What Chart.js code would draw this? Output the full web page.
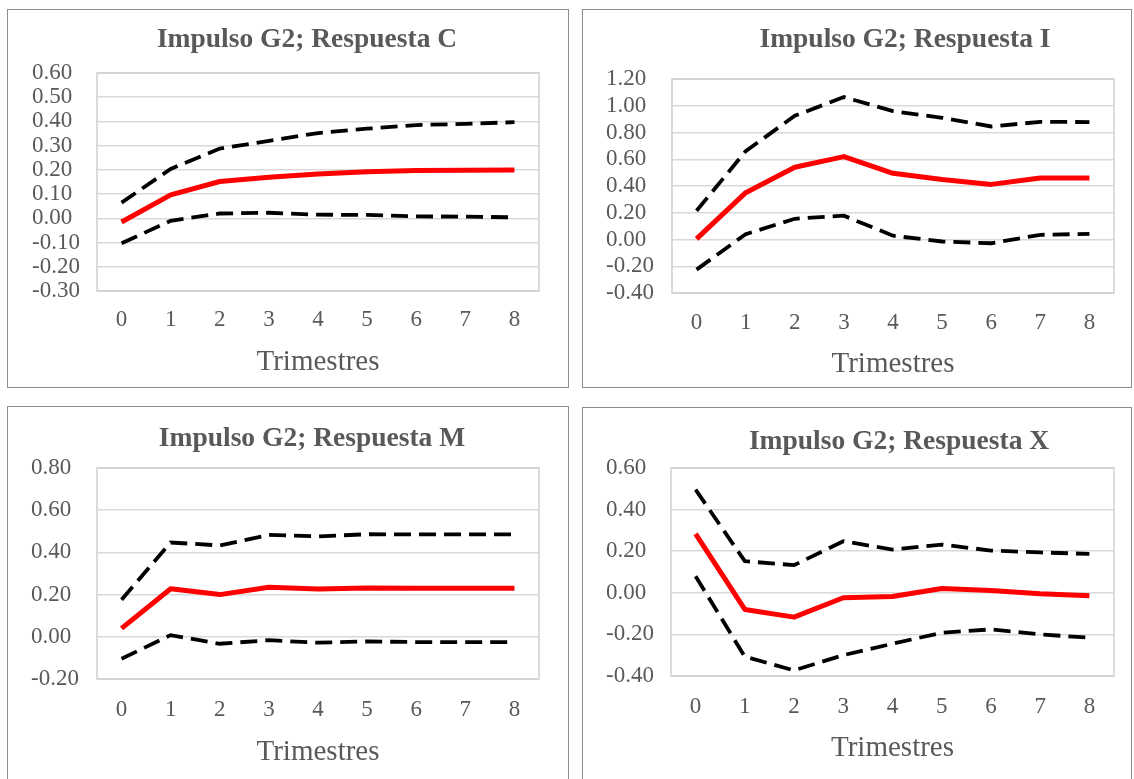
<!DOCTYPE html>
<html><head><meta charset="utf-8">
<script src="https://cdn.jsdelivr.net/npm/chart.js@4.4.1/dist/chart.umd.min.js"></script>
<style>
html,body{margin:0;padding:0;background:#fff;overflow:hidden;width:1134px;height:779px;}
.panel{position:absolute;border:1px solid #8c8c8c;box-sizing:border-box;background:#fff;overflow:hidden;}
.panel canvas{position:absolute;left:0;top:0;}
.ttl{position:absolute;font-family:"Liberation Serif";font-weight:bold;font-size:27.5px;color:#595959;text-align:center;white-space:nowrap;line-height:30px;height:30px;width:500px;}
</style></head><body>
<script>
// ---- data ----
const quarters = ['0','1','2','3','4','5','6','7','8'];
const xTitle = 'Trimestres';

const titleC = 'Impulso G2; Respuesta C';
const cResp  = [-0.015, 0.097, 0.152, 0.170, 0.183, 0.192, 0.197, 0.199, 0.200];
const cUpper = [0.065, 0.204, 0.288, 0.320, 0.352, 0.370, 0.385, 0.390, 0.397];
const cLower = [-0.103, -0.010, 0.020, 0.023, 0.015, 0.014, 0.008, 0.007, 0.004];
const cTicks = {min: -0.3, max: 0.6, step: 0.1};

const titleI = 'Impulso G2; Respuesta I';
const iResp  = [0.005, 0.350, 0.540, 0.620, 0.495, 0.448, 0.412, 0.460, 0.460];
const iUpper = [0.215, 0.660, 0.925, 1.065, 0.960, 0.910, 0.845, 0.880, 0.878];
const iLower = [-0.225, 0.040, 0.155, 0.178, 0.028, -0.015, -0.028, 0.035, 0.042];
const iTicks = {min: -0.4, max: 1.2, step: 0.2};

const titleM = 'Impulso G2; Respuesta M';
const mResp  = [0.040, 0.228, 0.200, 0.235, 0.226, 0.231, 0.230, 0.230, 0.230];
const mUpper = [0.176, 0.447, 0.433, 0.483, 0.476, 0.486, 0.485, 0.485, 0.485];
const mLower = [-0.104, 0.008, -0.033, -0.016, -0.028, -0.022, -0.025, -0.025, -0.025];
const mTicks = {min: -0.2, max: 0.8, step: 0.2};

const titleX = 'Impulso G2; Respuesta X';
const xResp  = [0.283, -0.080, -0.117, -0.024, -0.018, 0.021, 0.011, -0.005, -0.014];
const xUpper = [0.496, 0.152, 0.133, 0.248, 0.208, 0.232, 0.203, 0.194, 0.187];
const xLower = [0.080, -0.307, -0.373, -0.300, -0.245, -0.192, -0.176, -0.200, -0.216];
const xTicks = {min: -0.4, max: 0.6, step: 0.2};

// ---- layout (absolute page pixels) ----
const panels = [
  {title: titleC, resp: cResp, up: cUpper, lo: cLower, ticks: cTicks,
   box: {x: 7, y: 9, w: 562, h: 379}, plot: {l: 97, t: 73, r: 539, b: 291},
   labelLeft: 32, xLabelY: 320, axisTitleY: 362, titleC: [307, 38]},
  {title: titleI, resp: iResp, up: iUpper, lo: iLower, ticks: iTicks,
   box: {x: 582, y: 9, w: 550, h: 379}, plot: {l: 672, t: 79, r: 1114, b: 293},
   labelLeft: 606, xLabelY: 323, axisTitleY: 364, titleC: [905, 38]},
  {title: titleM, resp: mResp, up: mUpper, lo: mLower, ticks: mTicks,
   box: {x: 7, y: 406, w: 562, h: 380}, plot: {l: 97, t: 468, r: 539, b: 679},
   labelLeft: 31, xLabelY: 710, axisTitleY: 752, titleC: [312, 437]},
  {title: titleX, resp: xResp, up: xUpper, lo: xLower, ticks: xTicks,
   box: {x: 582, y: 407, w: 550, h: 380}, plot: {l: 671, t: 468, r: 1114, b: 676},
   labelLeft: 606, xLabelY: 707, axisTitleY: 748, titleC: [899, 440]}
];

const TEXT = '#595959';
const TICK_FONT = {family: 'Liberation Serif', size: 23};
const AXT_FONT = {family: 'Liberation Serif', size: 29};

const plotFrame = {
  id: 'plotFrame',
  beforeDatasetsDraw(chart) {
    const a = chart.chartArea, ctx = chart.ctx;
    ctx.save();
    ctx.strokeStyle = '#d0d0d0';
    ctx.lineWidth = 1.5;
    ctx.strokeRect(a.left, a.top, a.right - a.left, a.bottom - a.top);
    ctx.restore();
  }
};

panels.forEach((p, k) => {
  const div = document.createElement('div');
  div.className = 'panel';
  Object.assign(div.style, {left: p.box.x + 'px', top: p.box.y + 'px', width: p.box.w + 'px', height: p.box.h + 'px'});
  document.body.appendChild(div);
  const cw = p.box.w - 2, ch = p.box.h - 2;
  const cx0 = p.box.x + 1, cy0 = p.box.y + 1;
  const cv = document.createElement('canvas');
  cv.width = cw; cv.height = ch;
  cv.style.width = cw + 'px'; cv.style.height = ch + 'px';
  div.appendChild(cv);

  const t = document.createElement('div');
  t.className = 'ttl';
  t.textContent = p.title;
  t.style.left = (p.titleC[0] - 250) + 'px';
  t.style.top = (p.titleC[1] - 15) + 'px';
  document.body.appendChild(t);

  const padLeft = p.labelLeft - cx0;
  const yWidth = p.plot.l - p.labelLeft;
  const padRight = (cx0 + cw) - p.plot.r;
  const padTop = p.plot.t - cy0;
  const xHeight = (cy0 + ch) - p.plot.b;
  const tickLH = TICK_FONT.size * 1.2;
  const axLH = AXT_FONT.size * 1.2;
  const tickPad = p.xLabelY - p.plot.b - tickLH / 2;
  const axPadBottom = (cy0 + ch) - p.axisTitleY - axLH / 2;

  new Chart(cv, {
    type: 'line',
    data: {
      labels: quarters,
      datasets: [
        {label: 'Respuesta', data: p.resp, borderColor: '#ff0000', borderWidth: 5, pointRadius: 0, tension: 0, order: 0, borderJoinStyle: 'round', fill: false},
        {label: 'Superior', data: p.up, borderColor: '#000000', borderWidth: 3.8, borderDash: [17, 8], pointRadius: 0, tension: 0, order: 1, fill: false},
        {label: 'Inferior', data: p.lo, borderColor: '#000000', borderWidth: 3.8, borderDash: [17, 8], pointRadius: 0, tension: 0, order: 1, fill: false}
      ]
    },
    options: {
      responsive: false, animation: false, devicePixelRatio: 1,
      layout: {padding: {left: padLeft, right: padRight, top: padTop, bottom: 0}},
      plugins: {legend: {display: false}, tooltip: {enabled: false}, title: {display: false}},
      scales: {
        x: {
          offset: true,
          grid: {display: false, drawTicks: false},
          border: {display: false},
          ticks: {color: TEXT, font: TICK_FONT, padding: tickPad, maxRotation: 0, autoSkip: false},
          title: {display: true, text: xTitle, color: TEXT, font: AXT_FONT, padding: {top: 0, bottom: axPadBottom}},
          afterFit(s) { s.height = xHeight; }
        },
        y: {
          min: p.ticks.min, max: p.ticks.max,
          grid: {color: '#d9d9d9', lineWidth: 1.5, drawTicks: false},
          border: {display: false},
          ticks: {
            stepSize: p.ticks.step, color: TEXT, font: TICK_FONT, crossAlign: 'far', padding: 0, autoSkip: false,
            callback: v => (Math.abs(v) < 1e-9 ? 0 : v).toFixed(2)
          },
          afterFit(s) { s.width = yWidth; }
        }
      }
    },
    plugins: [plotFrame]
  });
});
</script>
</body></html>
